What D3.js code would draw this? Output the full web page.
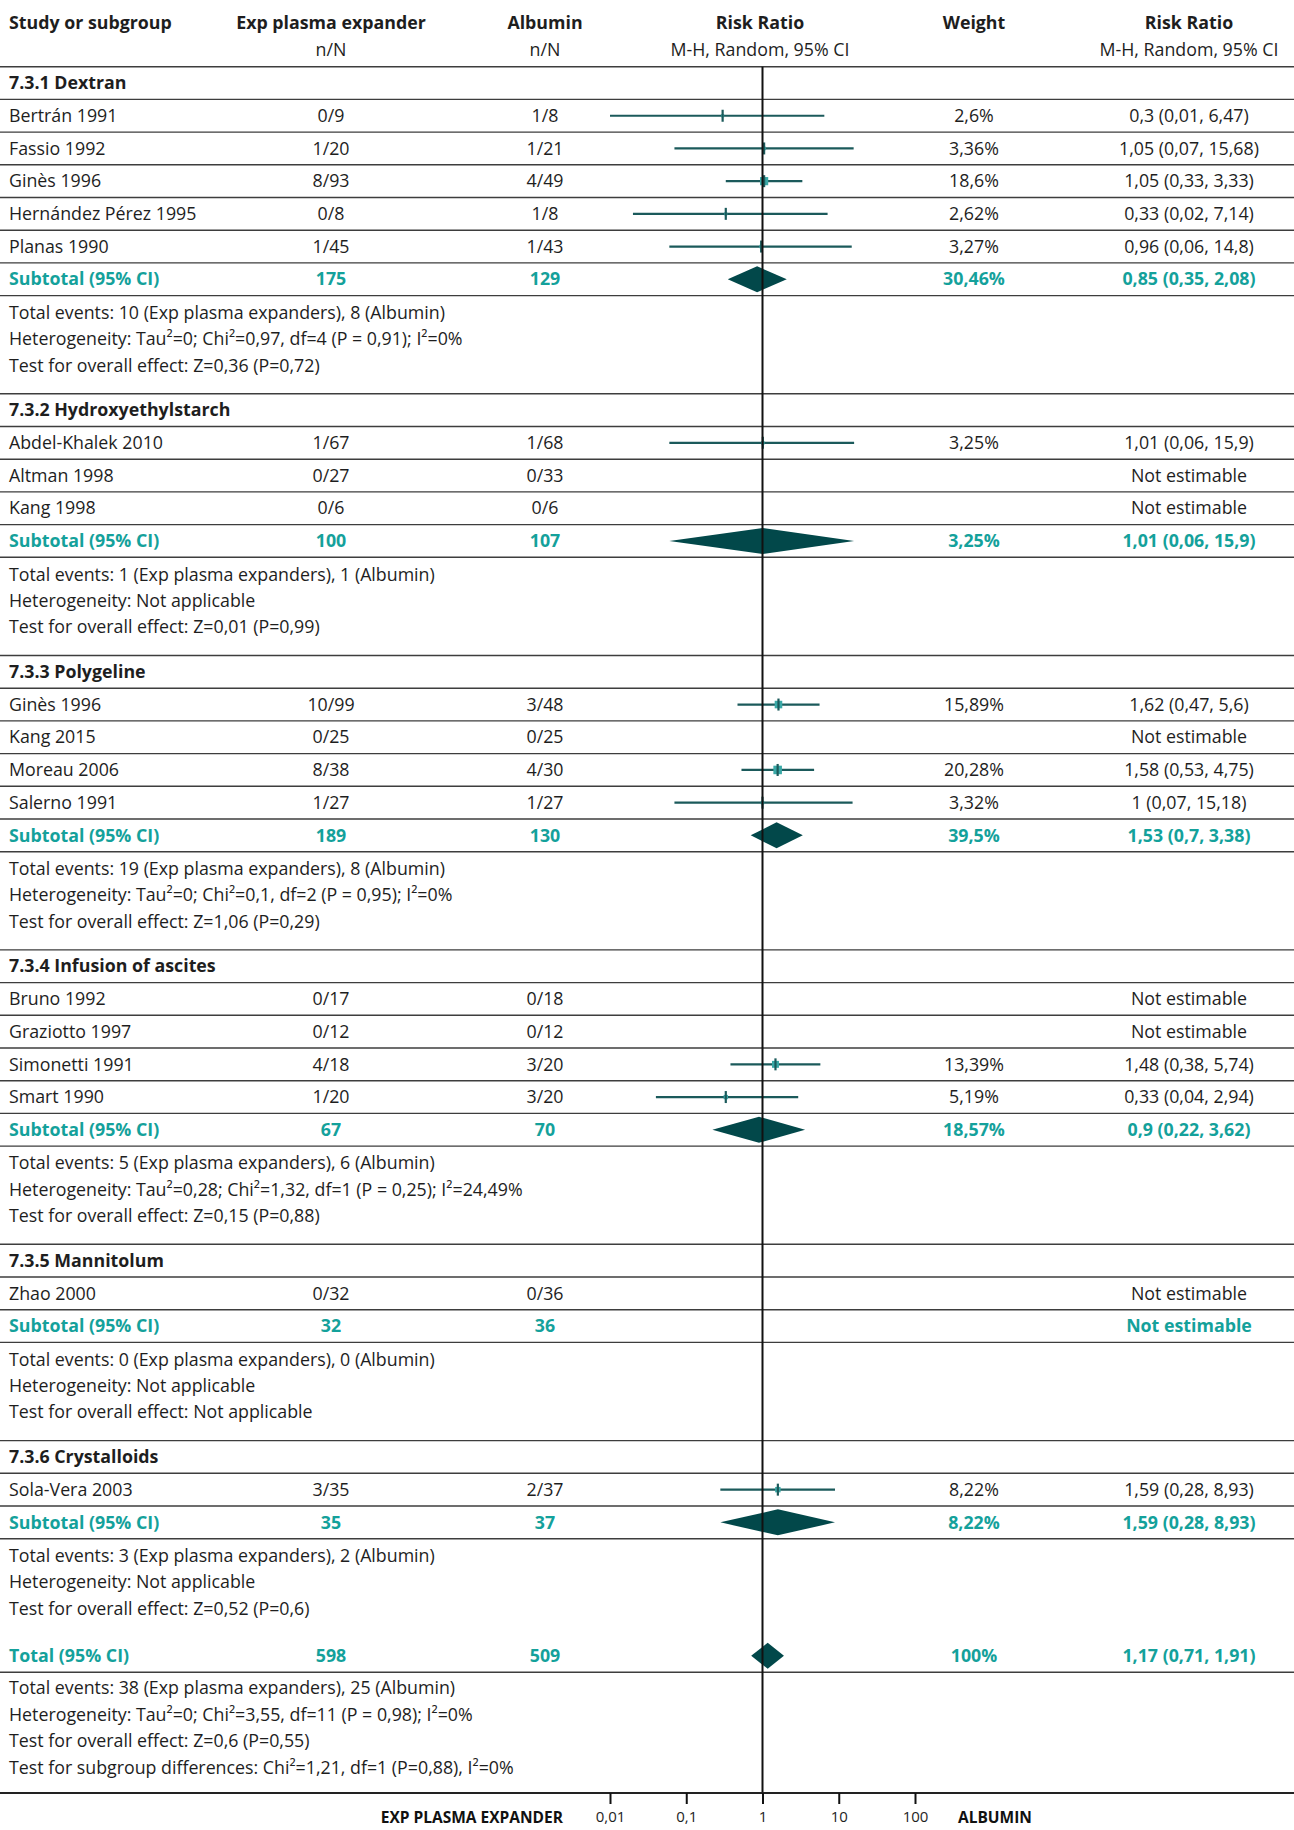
<!DOCTYPE html>
<html>
<head>
<meta charset="utf-8">
<script src="https://cdn.jsdelivr.net/npm/d3@7"></script>
<style>
  html, body { margin: 0; padding: 0; background: #fff; }
  svg { display: block; }
  text { font-family: "Open Sans", "Noto Sans", sans-serif; }
</style>
</head>
<body>
<svg id="chart" width="1294" height="1830"></svg>
<script>
// ---- Subgroups ----
const groupTitles = [
  "7.3.1 Dextran",
  "7.3.2 Hydroxyethylstarch",
  "7.3.3 Polygeline",
  "7.3.4 Infusion of ascites",
  "7.3.5 Mannitolum",
  "7.3.6 Crystalloids"
];

// ---- Individual studies ----
const studyNames = [
  "Bertrán 1991", "Fassio 1992", "Ginès 1996", "Hernández Pérez 1995", "Planas 1990",
  "Abdel-Khalek 2010", "Altman 1998", "Kang 1998",
  "Ginès 1996", "Kang 2015", "Moreau 2006", "Salerno 1991",
  "Bruno 1992", "Graziotto 1997", "Simonetti 1991", "Smart 1990",
  "Zhao 2000",
  "Sola-Vera 2003"
];
const studyGroup = [0,0,0,0,0, 1,1,1, 2,2,2,2, 3,3,3,3, 4, 5];
const expCounts = ["0/9","1/20","8/93","0/8","1/45", "1/67","0/27","0/6", "10/99","0/25","8/38","1/27", "0/17","0/12","4/18","1/20", "0/32", "3/35"];
const albCounts = ["1/8","1/21","4/49","1/8","1/43", "1/68","0/33","0/6", "3/48","0/25","4/30","1/27", "0/18","0/12","3/20","3/20", "0/36", "2/37"];
const studyWeight = [2.6, 3.36, 18.6, 2.62, 3.27, 3.25, null, null, 15.89, null, 20.28, 3.32, null, null, 13.39, 5.19, null, 8.22];
const studyRR = [0.3, 1.05, 1.05, 0.33, 0.96, 1.01, null, null, 1.62, null, 1.58, 1, null, null, 1.48, 0.33, null, 1.59];
const studyLo = [0.01, 0.07, 0.33, 0.02, 0.06, 0.06, null, null, 0.47, null, 0.53, 0.07, null, null, 0.38, 0.04, null, 0.28];
const studyHi = [6.47, 15.68, 3.33, 7.14, 14.8, 15.9, null, null, 5.6, null, 4.75, 15.18, null, null, 5.74, 2.94, null, 8.93];

// ---- Subtotals ----
const subtotalExp = [175, 100, 189, 67, 32, 35];
const subtotalAlb = [129, 107, 130, 70, 36, 37];
const subtotalWeight = [30.46, 3.25, 39.5, 18.57, null, 8.22];
const subtotalRR = [0.85, 1.01, 1.53, 0.9, null, 1.59];
const subtotalLo = [0.35, 0.06, 0.7, 0.22, null, 0.28];
const subtotalHi = [2.08, 15.9, 3.38, 3.62, null, 8.93];
const groupNotes = [
  ["Total events: 10 (Exp plasma expanders), 8 (Albumin)",
   "Heterogeneity: Tau²=0; Chi²=0,97, df=4 (P = 0,91); I²=0%",
   "Test for overall effect: Z=0,36 (P=0,72)"],
  ["Total events: 1 (Exp plasma expanders), 1 (Albumin)",
   "Heterogeneity: Not applicable",
   "Test for overall effect: Z=0,01 (P=0,99)"],
  ["Total events: 19 (Exp plasma expanders), 8 (Albumin)",
   "Heterogeneity: Tau²=0; Chi²=0,1, df=2 (P = 0,95); I²=0%",
   "Test for overall effect: Z=1,06 (P=0,29)"],
  ["Total events: 5 (Exp plasma expanders), 6 (Albumin)",
   "Heterogeneity: Tau²=0,28; Chi²=1,32, df=1 (P = 0,25); I²=24,49%",
   "Test for overall effect: Z=0,15 (P=0,88)"],
  ["Total events: 0 (Exp plasma expanders), 0 (Albumin)",
   "Heterogeneity: Not applicable",
   "Test for overall effect: Not applicable"],
  ["Total events: 3 (Exp plasma expanders), 2 (Albumin)",
   "Heterogeneity: Not applicable",
   "Test for overall effect: Z=0,52 (P=0,6)"]
];

// ---- Overall ----
const totalExp = [598];
const totalAlb = [509];
const totalWeight = [100];
const totalRR = [1.17];
const totalLo = [0.71];
const totalHi = [1.91];
const totalNotes = [
  "Total events: 38 (Exp plasma expanders), 25 (Albumin)",
  "Heterogeneity: Tau²=0; Chi²=3,55, df=11 (P = 0,98); I²=0%",
  "Test for overall effect: Z=0,6 (P=0,55)",
  "Test for subgroup differences: Chi²=1,21, df=1 (P=0,88), I²=0%"
];

// ---- Axis ----
const axisTicks = [0.01, 0.1, 1, 10, 100];
const axisTickLabels = ["0,01", "0,1", "1", "10", "100"];
const axisLeftLabel = "EXP PLASMA EXPANDER";
const axisRightLabel = "ALBUMIN";

// ---- Styling & layout ----
const W = 1294;
const TEXT = "#1e1e1e";
const TEAL = "#14a19b";
const DARK = "#02484a";
const CI = "#1b5a5b";
const BOX = "#3aa9a7";
const RULE = "#3d3d3d";
const FS = 17.8;

const col = { name: 9, exp: 331, alb: 545, plot: 760, weight: 974, rr: 1189 };
const rowH = 32.7;
const tableTop = 66.7;
const notesH = 98.2;
const noteFirst = 17;
const notePitch = 26.4;
const axisY = 1793;

const x = d3.scaleLog().domain([0.01, 100]).range([610, 915]);

const num = v => String(v).replace(".", ",");
const ciLabel = (r, l, h) => `${num(r)} (${num(l)}, ${num(h)})`;

const svg = d3.select("#chart");
svg.append("rect").attr("width", W).attr("height", 1830).attr("fill", "#fff");

const gRules = svg.append("g");
const gMarks = svg.append("g");
const gText = svg.append("g");

function txt(xp, yp, s, opts = {}) {
  return gText.append("text")
    .attr("x", xp).attr("y", yp).attr("dy", "0.35em")
    .attr("text-anchor", opts.anchor || "start")
    .attr("font-size", opts.size || FS)
    .attr("font-weight", opts.bold ? 700 : 400)
    .attr("fill", opts.color || TEXT)
    .text(s);
}
function rule(yp) {
  gRules.append("line").attr("x1", 0).attr("x2", W).attr("y1", yp).attr("y2", yp)
    .attr("stroke", RULE).attr("stroke-width", 1.4);
}
function diamond(cy, rr, lo, hi) {
  const h = 26;
  const pts = [[x(lo), cy], [x(rr), cy - h / 2], [x(hi), cy], [x(rr), cy + h / 2]];
  gMarks.append("path").attr("d", d3.line()(pts) + "Z").attr("fill", DARK);
}

// ---- Column headers ----
txt(col.name, 23, "Study or subgroup", { bold: true });
txt(col.exp, 23, "Exp plasma expander", { bold: true, anchor: "middle" });
txt(col.alb, 23, "Albumin", { bold: true, anchor: "middle" });
txt(col.plot, 23, "Risk Ratio", { bold: true, anchor: "middle" });
txt(col.weight, 23, "Weight", { bold: true, anchor: "middle" });
txt(col.rr, 23, "Risk Ratio", { bold: true, anchor: "middle" });
txt(col.exp, 50, "n/N", { anchor: "middle" });
txt(col.alb, 50, "n/N", { anchor: "middle" });
txt(col.plot, 50, "M-H, Random, 95% CI", { anchor: "middle" });
txt(col.rr, 50, "M-H, Random, 95% CI", { anchor: "middle" });
rule(tableTop);

// ---- Body ----
let y = tableTop;
groupTitles.forEach((title, g) => {
  // subgroup heading row
  txt(col.name, y + rowH / 2, title, { bold: true });
  y += rowH; rule(y);

  // study rows
  studyNames.forEach((name, i) => {
    if (studyGroup[i] !== g) return;
    const cy = y + rowH / 2;
    txt(col.name, cy, name);
    txt(col.exp, cy, expCounts[i], { anchor: "middle" });
    txt(col.alb, cy, albCounts[i], { anchor: "middle" });
    if (studyRR[i] == null) {
      txt(col.rr, cy, "Not estimable", { anchor: "middle" });
    } else {
      txt(col.weight, cy, num(studyWeight[i]) + "%", { anchor: "middle" });
      txt(col.rr, cy, ciLabel(studyRR[i], studyLo[i], studyHi[i]), { anchor: "middle" });
      gMarks.append("line")
        .attr("x1", x(studyLo[i])).attr("x2", x(studyHi[i]))
        .attr("y1", cy).attr("y2", cy)
        .attr("stroke", CI).attr("stroke-width", 2.2);
      const side = 1.9 * Math.sqrt(studyWeight[i]);
      gMarks.append("rect")
        .attr("x", x(studyRR[i]) - side / 2).attr("y", cy - side / 2)
        .attr("width", side).attr("height", side)
        .attr("fill", BOX);
      gMarks.append("line")
        .attr("x1", x(studyRR[i])).attr("x2", x(studyRR[i]))
        .attr("y1", cy - 6).attr("y2", cy + 6)
        .attr("stroke", CI).attr("stroke-width", 2.2);
    }
    y += rowH; rule(y);
  });

  // subtotal row
  const cy = y + rowH / 2;
  txt(col.name, cy, "Subtotal (95% CI)", { bold: true, color: TEAL });
  txt(col.exp, cy, subtotalExp[g], { bold: true, color: TEAL, anchor: "middle" });
  txt(col.alb, cy, subtotalAlb[g], { bold: true, color: TEAL, anchor: "middle" });
  if (subtotalRR[g] == null) {
    txt(col.rr, cy, "Not estimable", { bold: true, color: TEAL, anchor: "middle" });
  } else {
    txt(col.weight, cy, num(subtotalWeight[g]) + "%", { bold: true, color: TEAL, anchor: "middle" });
    txt(col.rr, cy, ciLabel(subtotalRR[g], subtotalLo[g], subtotalHi[g]), { bold: true, color: TEAL, anchor: "middle" });
    diamond(cy, subtotalRR[g], subtotalLo[g], subtotalHi[g]);
  }
  y += rowH; rule(y);

  // heterogeneity notes
  groupNotes[g].forEach((line, k) => txt(col.name, y + noteFirst + k * notePitch, line));
  y += notesH;
  if (g < groupTitles.length - 1) rule(y);
});

// ---- Overall total ----
y += 2.6;
{
  const cy = y + rowH / 2;
  txt(col.name, cy, "Total (95% CI)", { bold: true, color: TEAL });
  txt(col.exp, cy, totalExp[0], { bold: true, color: TEAL, anchor: "middle" });
  txt(col.alb, cy, totalAlb[0], { bold: true, color: TEAL, anchor: "middle" });
  txt(col.weight, cy, num(totalWeight[0]) + "%", { bold: true, color: TEAL, anchor: "middle" });
  txt(col.rr, cy, ciLabel(totalRR[0], totalLo[0], totalHi[0]), { bold: true, color: TEAL, anchor: "middle" });
  diamond(cy, totalRR[0], totalLo[0], totalHi[0]);
  y += rowH; rule(y);
  totalNotes.forEach((line, k) => txt(col.name, y + 16 + k * 26.5, line));
}

// ---- Line of no effect ----
gMarks.append("line")
  .attr("x1", x(1)).attr("x2", x(1))
  .attr("y1", tableTop).attr("y2", axisY)
  .attr("stroke", "#111").attr("stroke-width", 2);

// ---- Bottom axis ----
svg.append("line").attr("x1", 0).attr("x2", W).attr("y1", axisY).attr("y2", axisY)
  .attr("stroke", "#222").attr("stroke-width", 2);
const axis = d3.axisBottom(x)
  .tickValues(axisTicks)
  .tickFormat((d, i) => axisTickLabels[i])
  .tickSize(11)
  .tickPadding(7);
const gAxis = svg.append("g").attr("transform", `translate(0,${axisY})`).call(axis);
gAxis.select(".domain").remove();
gAxis.selectAll(".tick line").attr("stroke", "#111").attr("stroke-width", 2);
gAxis.selectAll(".tick text")
  .attr("font-family", "'Open Sans', 'Noto Sans', sans-serif")
  .attr("font-size", 15).attr("fill", TEXT);

txt(563, 1818, axisLeftLabel, { bold: true, size: 15.5, anchor: "end", color: "#111" });
txt(958, 1818, axisRightLabel, { bold: true, size: 15.5, color: "#111" });
</script>
</body>
</html>
